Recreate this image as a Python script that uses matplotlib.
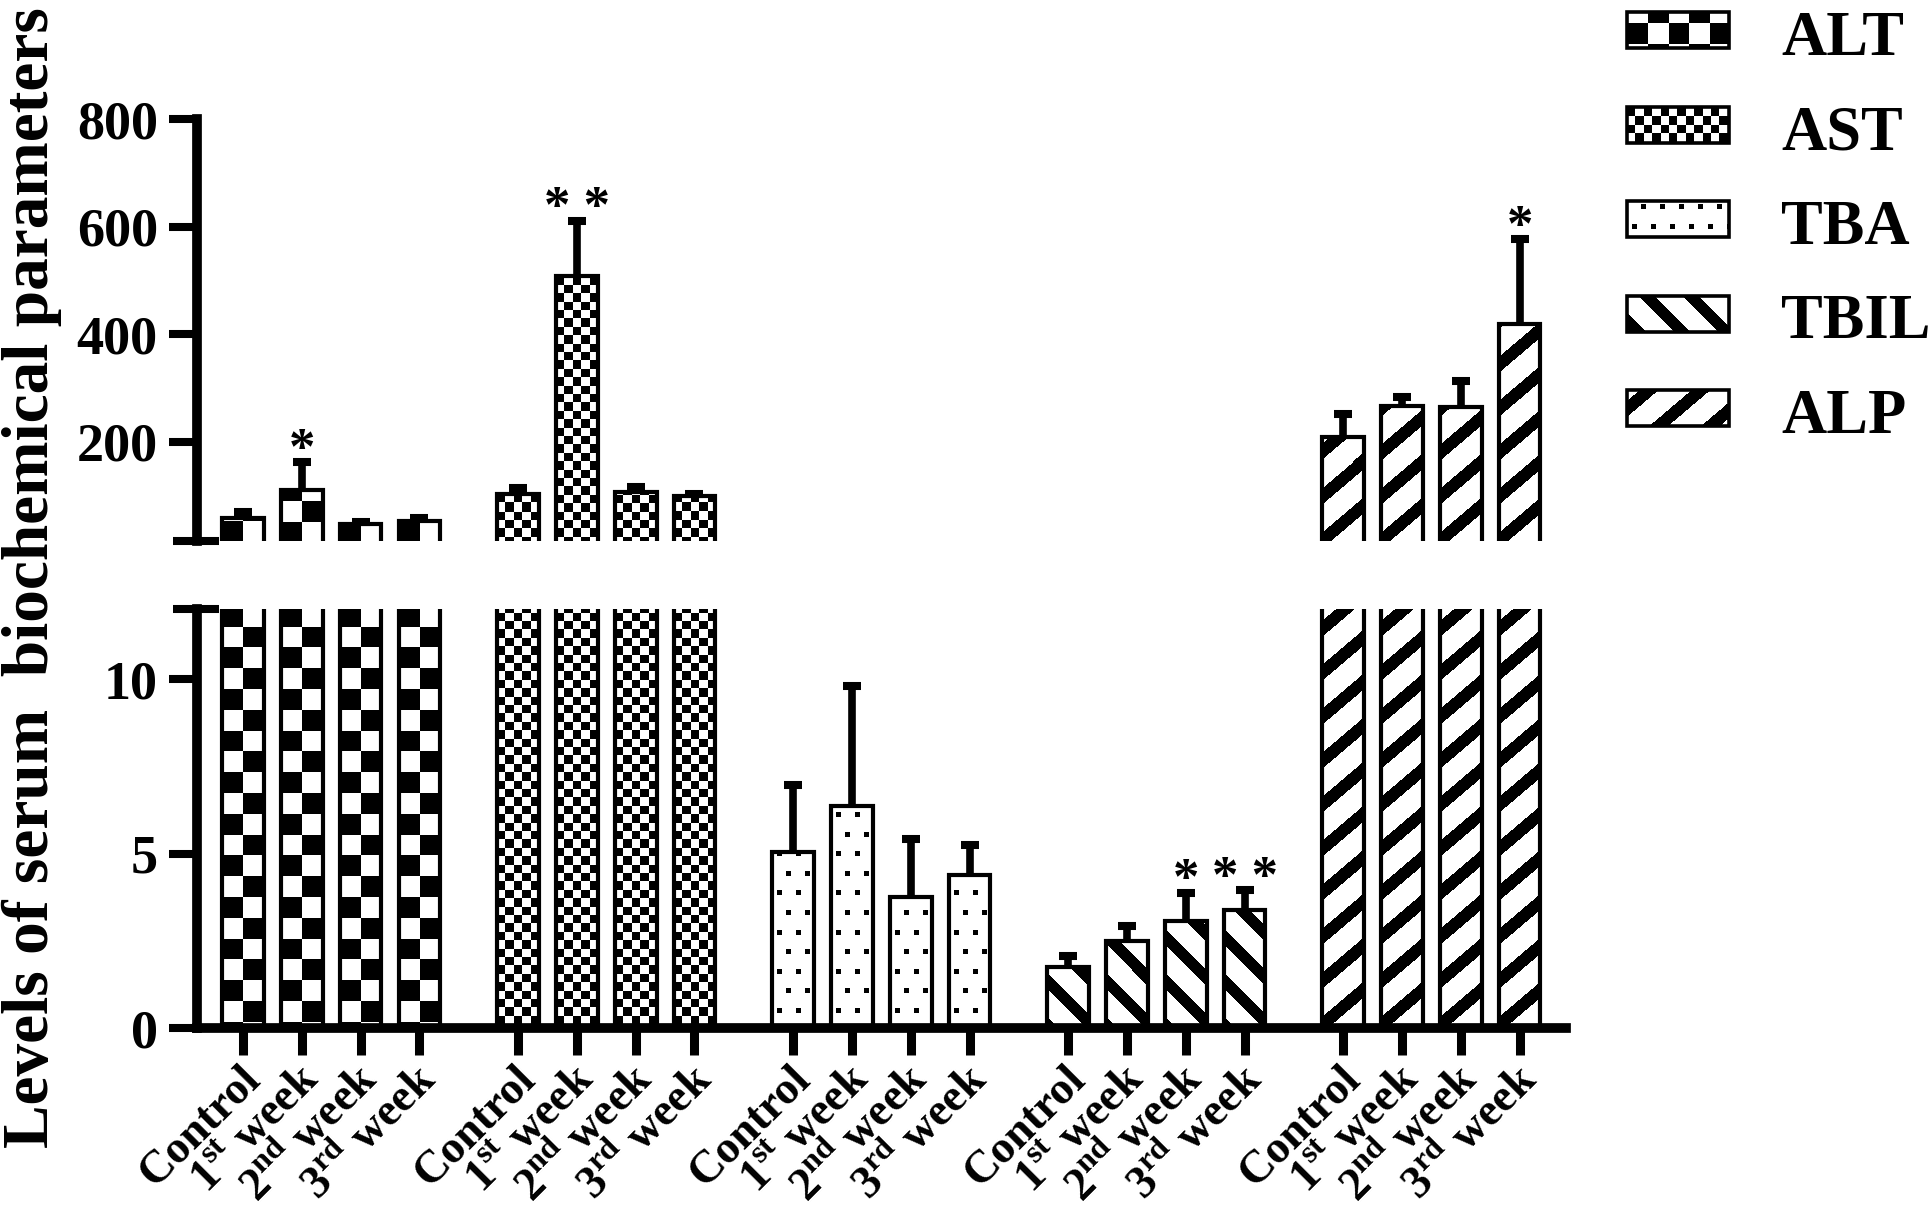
import numpy as np
import matplotlib
matplotlib.use("Agg")
import matplotlib.pyplot as plt
from matplotlib.patches import Rectangle
from matplotlib.transforms import Bbox, ScaledTranslation

# values (mean and upper error for each group)
params = ["ALT", "AST", "TBA", "TBIL", "ALP"]
groups = ["Control", r"1$^{\mathrm{st}}$ week", r"2$^{\mathrm{nd}}$ week",
          r"3$^{\mathrm{rd}}$ week"]

alt_mean = [58, 110, 47, 52]
alt_err = [11, 52, 4, 7]
ast_mean = [103, 509, 106, 99]
ast_err = [10, 102, 9, 4]
tba_mean = [5.03, 6.35, 3.74, 4.38]
tba_err = [1.93, 3.45, 1.67, 0.87]
tbil_mean = [1.74, 2.50, 3.08, 3.38]
tbil_err = [0.32, 0.41, 0.79, 0.56]
alp_mean = [209, 267, 264, 418]
alp_err = [42, 17, 48, 158]

alt_sig = ["", "*", "", ""]
ast_sig = ["", "* *", "", ""]
tba_sig = ["", "", "", ""]
tbil_sig = ["", "", "*", "* *"]
alp_sig = ["", "", "", "*"]

means = [alt_mean, ast_mean, tba_mean, tbil_mean, alp_mean]
errs = [alt_err, ast_err, tba_err, tbil_err, alp_err]
sigs = [alt_sig, ast_sig, tba_sig, tbil_sig, alp_sig]

# fill styles (pixel patterns)
fills = {
    "ALT": ("checker", 20.8),
    "AST": ("checker", 8.4),
    "TBA": ("dots", 0),
    "TBIL": ("stripes", 1.0),
    "ALP": ("stripes", -0.85),
}

plt.rcParams["font.family"] = ["Liberation Serif", "DejaVu Serif"]
plt.rcParams["font.weight"] = "bold"
plt.rcParams["mathtext.fontset"] = "custom"
plt.rcParams["mathtext.rm"] = "Liberation Serif:bold"
plt.rcParams["mathtext.bf"] = "Liberation Serif:bold"

W, H = 1933, 1209
fig = plt.figure(figsize=(W / 100, H / 100), dpi=100)
ax_bot = fig.add_axes([0.10176, 0.14971, 0.70838, 0.34640])
ax_top = fig.add_axes([0.10176, 0.55236, 0.70838, 0.34921])
BOT_LIM = (0, 12)
TOP_LIM = (15, 800)


def fill_pattern(ax, patch, style):
    bb = Bbox.intersection(patch.get_window_extent(), ax.bbox)
    if bb is None or bb.width < 1 or bb.height < 1:
        return
    w, h = int(np.ceil(bb.width)), int(np.ceil(bb.height))
    X, R = np.meshgrid(np.arange(w) + 0.5, np.arange(h) + 0.5)
    Y = bb.y0 + h - R
    kind, p = style
    if kind == "checker":
        black = ((X // p + Y // p) % 2) == 0
    elif kind == "dots":
        row = np.floor(Y / 19.6)
        shift = (row % 2) * 9.5
        black = ((Y % 19.6) < 5) & (((X - 5 - shift) % 19) < 5)
    else:
        black = ((Y + p * X) % 44) < 16
    img = np.where(black, 0.0, 1.0)
    inv = ax.transData.inverted()
    (x0, y0), (x1, y1) = inv.transform([(bb.x0, bb.y0), (bb.x0 + w, bb.y0 + h)])
    im = ax.imshow(img, cmap="gray", vmin=0, vmax=1, extent=(x0, x1, y0, y1),
                   origin="upper", interpolation="nearest", aspect="auto", zorder=1)
    im.set_clip_path(patch)


n = len(groups)
xpos = []
for g in range(len(params)):
    xpos += [g * 4.68 + i for i in range(n)]
xpos = np.array(xpos)

for ax, lim in [(ax_bot, BOT_LIM), (ax_top, TOP_LIM)]:
    ax.set_xlim(-0.79, xpos[-1] + 0.79)
    ax.set_ylim(*lim)
    for s in ["top", "right"]:
        ax.spines[s].set_visible(False)
    for s in ["left", "bottom"]:
        ax.spines[s].set_linewidth(7)
    ax.tick_params(axis="y", direction="out", length=20, width=5.8,
                   labelsize=39, pad=8)

ax_top.spines["bottom"].set_visible(False)
ax_top.tick_params(axis="x", bottom=False, labelbottom=False)
ax_top.set_yticks([200, 400, 600, 800])
ax_bot.set_yticks([0, 5, 10])

for g, name in enumerate(params):
    x = xpos[g * n:(g + 1) * n]
    m = np.array(means[g], dtype=float)
    e = np.array(errs[g], dtype=float)
    axes = [ax_bot]
    if (m + e).max() > TOP_LIM[0]:
        axes.append(ax_top)
    for ax in axes:
        bars = ax.bar(x, m, width=0.709, facecolor="none", edgecolor="k",
                      linewidth=3, zorder=2)
        for b in bars:
            fill_pattern(ax, b, fills[name])
        eb = ax.errorbar(x, m, yerr=[np.zeros(n), e], fmt="none", ecolor="k",
                         elinewidth=5.5, capsize=6.5, capthick=5.8, zorder=3)
        for cl in eb[1]:
            if np.allclose(cl.get_ydata(), m):
                cl.set_visible(False)
    for i in range(n):
        if sigs[g][i]:
            top = m[i] + e[i]
            ax = ax_top if top > BOT_LIM[1] else ax_bot
            ax.annotate(sigs[g][i], (x[i], top), xytext=(0, -1),
                        textcoords="offset points", ha="center", va="baseline",
                        fontsize=38)

for ax in (ax_bot, ax_top):
    ax.set_xlim(-0.79, xpos[-1] + 0.79)
ax_bot.set_ylim(*BOT_LIM)
ax_top.set_ylim(*TOP_LIM)

# axis break caps
ax_top.plot([-0.0175, 0.016], [0, 0], transform=ax_top.transAxes, color="k",
            lw=5.8, clip_on=False, solid_capstyle="butt")
ax_bot.plot([-0.0175, 0.016], [1, 1], transform=ax_bot.transAxes, color="k",
            lw=5.8, clip_on=False, solid_capstyle="butt")

ax_bot.set_xticks(xpos)
ax_bot.set_xticklabels(groups * len(params))
ax_bot.tick_params(axis="x", direction="out", length=19.4, width=6.5,
                   labelsize=33, pad=13)
shift = ScaledTranslation(0.11, 0, fig.dpi_scale_trans)
for lab in ax_bot.get_xticklabels():
    lab.set_rotation(45)
    lab.set_ha("right")
    lab.set_va("center")
    lab.set_rotation_mode("anchor")
    lab.set_transform(lab.get_transform() + shift)

fig.text(32 / W, 1 - 578 / H, "Levels of serum  biochemical parameters",
         rotation=90, ha="center", va="center", fontsize=47)

# legend drawn in a pixel-unit overlay
lax = fig.add_axes([0, 0, 1, 1], zorder=5)
lax.set_xlim(0, W)
lax.set_ylim(0, H)
lax.axis("off")
for i, name in enumerate(params):
    cy = H - (30 + 94.5 * i)
    sw = Rectangle((1627, cy - 18), 102, 36, facecolor="none", edgecolor="k",
                   linewidth=2.6, zorder=2)
    lax.add_patch(sw)
    fill_pattern(lax, sw, fills[name])
    lax.text(1781, cy - 25, name, fontsize=45, ha="left", va="baseline")
lax.set_xlim(0, W)
lax.set_ylim(0, H)

fig.savefig("out.png", dpi=100, facecolor="white")
